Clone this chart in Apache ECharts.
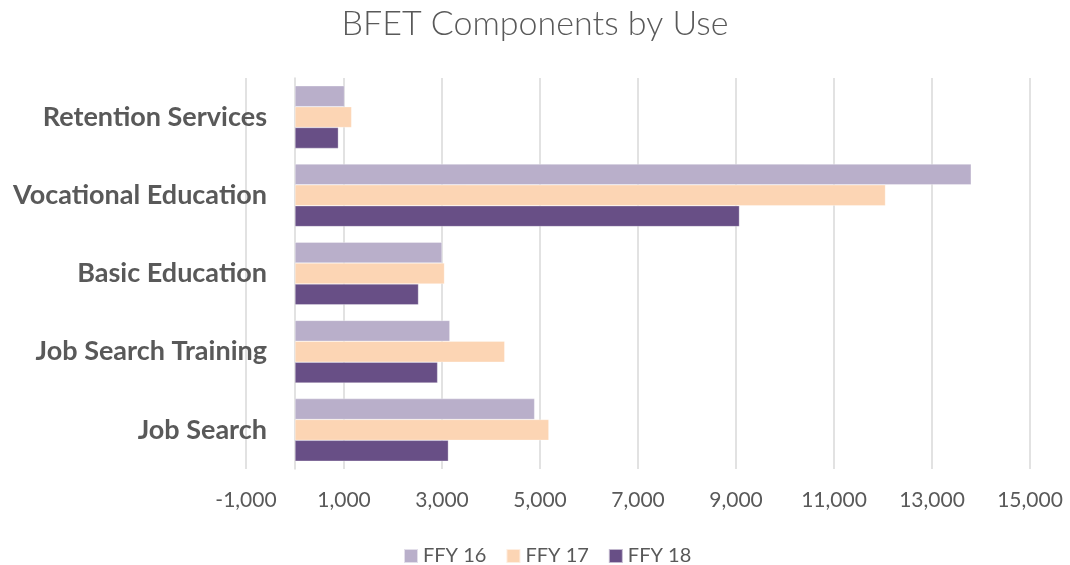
<!DOCTYPE html>
<html>
<head>
<meta charset="utf-8">
<script src="https://cdn.jsdelivr.net/npm/echarts@6/dist/echarts.min.js"></script>
<style>
html,body{margin:0;padding:0;background:#fff;}
#c{width:1070px;height:565px;}
</style>
</head>
<body>
<div id="c"></div>
<script>
const categories = ['Retention Services', 'Vocational Education', 'Basic Education', 'Job Search Training', 'Job Search'];
const seriesNames = ['FFY 16', 'FFY 17', 'FFY 18'];
const ffy16 = [1010, 13800, 3000, 3160, 4890];
const ffy17 = [1155, 12050, 3050, 4280, 5180];
const ffy18 = [885, 9070, 2520, 2910, 3130];
const colors = ['#b9afca', '#fcd5b4', '#684f86'];
const axisMin = -1000, axisMax = 15000, axisInterval = 2000;

const chart = echarts.init(document.getElementById('c'), null, {renderer: 'canvas'});
const FONT = 'Lato';
const values = [ffy16, ffy17, ffy18];
chart.setOption({
  animation: false,
  title: {
    text: 'BFET Components by Use',
    left: 'center', top: 2,
    textStyle: {fontFamily: FONT, fontWeight: 300, fontSize: 34, color: '#595959'}
  },
  legend: {
    data: seriesNames,
    top: 541, left: 398,
    itemWidth: 14, itemHeight: 14, itemGap: 19,
    icon: 'rect',
    textStyle: {fontFamily: FONT, fontSize: 20, color: '#595959'}
  },
  grid: {left: 246, right: 40, top: 78, bottom: 96, containLabel: false, outerBoundsMode: 'none'},
  xAxis: {
    type: 'value', min: axisMin, max: axisMax, interval: axisInterval,
    axisLine: {show: false}, axisTick: {show: false},
    splitLine: {show: true, lineStyle: {color: '#d9d9d9', width: 1.5}},
    axisLabel: {
      margin: 21, fontFamily: FONT, fontSize: 21, color: '#595959',
      formatter: v => v.toLocaleString('en-US')
    }
  },
  yAxis: {
    type: 'category', data: categories, inverse: true,
    axisLine: {show: true, onZero: true, lineStyle: {color: '#d9d9d9', width: 1.5}},
    axisTick: {show: false},
    axisLabel: {margin: -21, fontFamily: FONT, fontWeight: 'bold', fontSize: 27, color: '#595959'}
  },
  series: seriesNames.map((n, i) => ({
    name: n, type: 'bar', data: values[i],
    barGap: '0%', barCategoryGap: '20%',
    itemStyle: {color: colors[i], borderColor: 'rgba(255,255,255,0.6)', borderWidth: 0.5}
  }))
});
</script>
</body>
</html>
